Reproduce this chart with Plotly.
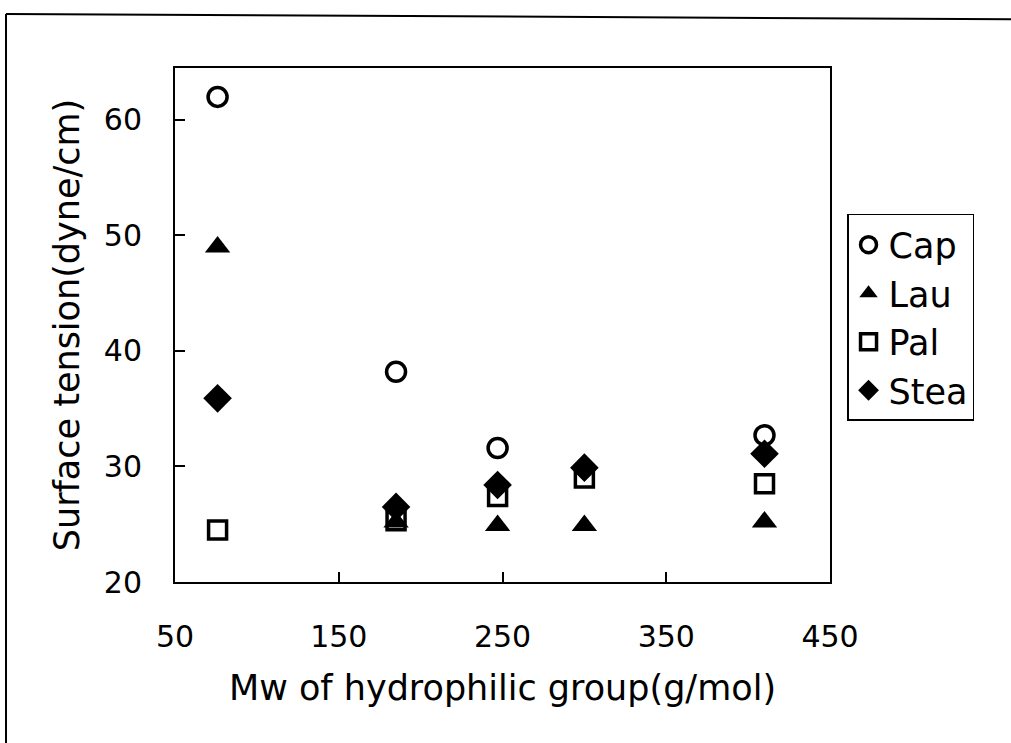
import plotly.graph_objects as go

cap_x = [76, 185, 247, 410]
cap = [62.0, 38.2, 31.6, 32.7]
lau_x = [76, 185, 247, 300, 410]
lau = [49.0, 25.2, 24.9, 24.9, 25.2]
pal_x = [76, 185, 247, 300, 410]
pal = [24.5, 25.3, 27.4, 29.0, 28.5]
stea_x = [76, 185, 247, 300, 410]
stea = [35.9, 26.5, 28.4, 29.9, 31.1]

x_ticks = [50, 150, 250, 350, 450]
y_ticks = [20, 30, 40, 50, 60]

FONT = "DejaVu Sans, sans-serif"

fig = go.Figure()
fig.add_trace(go.Scatter(x=cap_x, y=cap, mode="markers", name="Cap",
                         marker=dict(symbol="circle-open", size=19, color="black",
                                     line=dict(width=3.5, color="black"))))
fig.add_trace(go.Scatter(x=lau_x, y=lau, mode="markers", name="Lau",
                         marker=dict(symbol="triangle-up", size=22, color="black")))
fig.add_trace(go.Scatter(x=pal_x, y=pal, mode="markers", name="Pal",
                         marker=dict(symbol="square-open", size=18, color="black",
                                     line=dict(width=3.5, color="black"))))
fig.add_trace(go.Scatter(x=stea_x, y=stea, mode="markers", name="Stea",
                         marker=dict(symbol="diamond", size=22, color="black")))

axis_common = dict(showline=True, linecolor="black", linewidth=2, mirror=True,
                   ticks="inside", ticklen=10, tickwidth=2, tickcolor="black",
                   showgrid=False, zeroline=False,
                   tickfont=dict(family=FONT, size=30, color="black"))

fig.update_xaxes(range=[50, 450], tickvals=x_ticks, ticktext=[str(v) for v in x_ticks],
                 ticklabelstandoff=27,
                 title=dict(text="Mw of hydrophilic group(g/mol)",
                            font=dict(family=FONT, size=35, color="black"), standoff=22),
                 **axis_common)
fig.update_yaxes(range=[20, 64.5], tickvals=y_ticks, ticktext=[str(v) for v in y_ticks],
                 ticklabelstandoff=25,
                 title=dict(text="Surface tension(dyne/cm)",
                            font=dict(family=FONT, size=35, color="black"), standoff=14),
                 **axis_common)

# outer scanned frame (left and top edges)
fig.add_shape(type="line", xref="paper", yref="paper", x0=-0.258, y0=1.105, x1=-0.258, y1=-0.32,
              line=dict(color="black", width=2))
fig.add_shape(type="line", xref="paper", yref="paper", x0=-0.258, y0=1.105, x1=1.28, y1=1.095,
              line=dict(color="black", width=2))

fig.update_layout(
    width=1011, height=743,
    margin=dict(l=175, r=181, t=68, b=161),
    paper_bgcolor="white", plot_bgcolor="white",
    showlegend=True,
    legend=dict(x=1.026, y=0.716, xanchor="left", yanchor="top",
                bordercolor="black", borderwidth=1.5, bgcolor="white",
                font=dict(family=FONT, size=35, color="black"),
                tracegroupgap=0),
)

fig.write_html("out.html")
